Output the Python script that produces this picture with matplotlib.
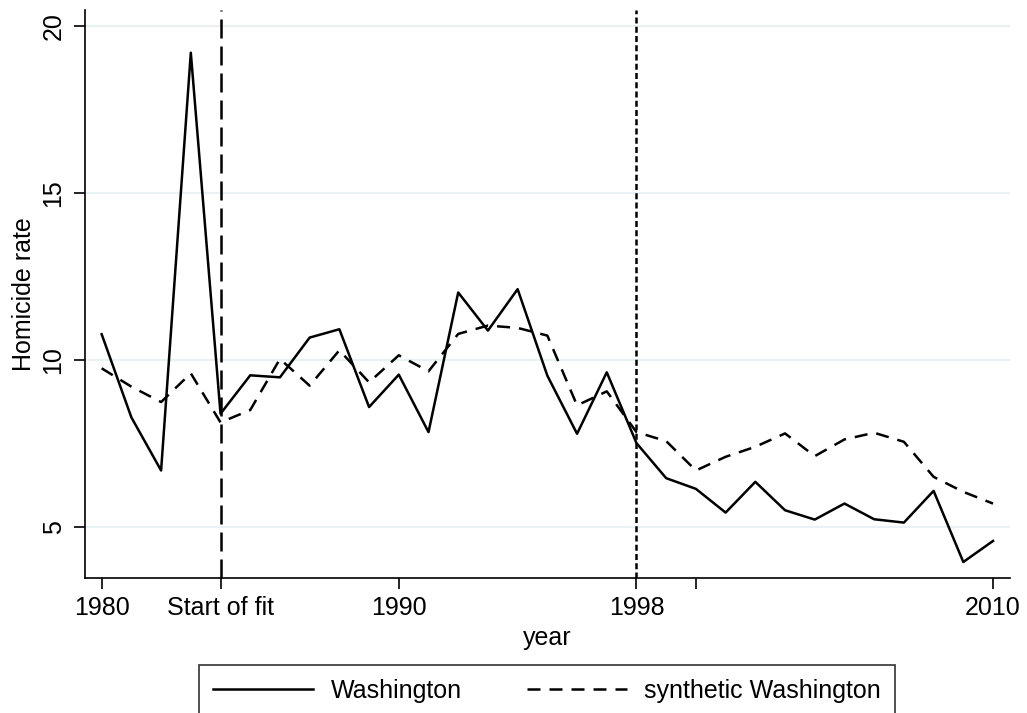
import matplotlib
matplotlib.use("Agg")
import matplotlib.pyplot as plt
from matplotlib.lines import Line2D

plt.rcParams['font.family'] = ['Liberation Sans', 'DejaVu Sans']

years = list(range(1980, 2011))
washington = [10.77, 8.28, 6.69, 19.2, 8.39, 9.54, 9.48, 10.67, 10.92, 8.59,
              9.56, 7.84, 12.02, 10.88, 12.12, 9.53, 7.79, 9.63, 7.51, 6.46,
              6.14, 5.43, 6.35, 5.5, 5.22, 5.7, 5.23, 5.13, 6.08, 3.95, 4.58]
synthetic = [9.75, 9.2, 8.74, 9.6, 8.13, 8.5, 10.03, 9.23, 10.29, 9.33,
             10.14, 9.66, 10.78, 11.03, 10.96, 10.73, 8.64, 9.06, 7.84, 7.57,
             6.69, 7.1, 7.4, 7.8, 7.12, 7.62, 7.82, 7.55, 6.5, 6.05, 5.7]

xticks = [1980, 1984, 1990, 1998, 2000, 2010]
xtick_labels = ['1980', 'Start of fit', '1990', '1998', '', '2010']
yticks = [5, 10, 15, 20]
fit_start = 1984
treat_year = 1998

fs = 18
lw = 1.8
dash = (5.2, 3.6)
fig = plt.figure(figsize=(10.27, 7.13), dpi=100)
ax = fig.add_axes([0.0828, 0.1893, 0.9006, 0.7967])

ax.grid(axis='y', color='#eaf1f3', lw=1.5, zorder=0)
ax.set_axisbelow(True)

ax.plot(years, washington, color='black', lw=lw, zorder=3)
ax.plot(years, synthetic, color='black', lw=lw, dashes=dash, zorder=3)

# start of fit / treatment year
ax.axvline(fit_start, color='black', lw=lw, dashes=(7.6, 3.2), zorder=4)
ax.axvline(treat_year, color='black', lw=lw, dashes=(2.4, 1.3), zorder=4)

ax.set_xlim(1979.44, 2010.57)
ax.set_ylim(3.47, 20.48)
ax.set_xticks(xticks)
ax.set_xticklabels(xtick_labels)
ax.set_yticks(yticks)
ax.set_yticklabels([str(v) for v in yticks], rotation=90, va='center')

for s in ['top', 'right']:
    ax.spines[s].set_visible(False)
for s in ['left', 'bottom']:
    ax.spines[s].set_linewidth(1.2)

ax.tick_params(axis='both', direction='out', length=8, width=1.2, labelsize=fs)
ax.tick_params(axis='x', pad=5)
ax.tick_params(axis='y', pad=6)

ax.set_xlabel('year', fontsize=fs, labelpad=4)
ax.set_ylabel('Homicide rate', fontsize=fs, labelpad=4)

handles = [Line2D([], [], color='black', lw=lw),
           Line2D([], [], color='black', lw=lw, dashes=dash)]
leg = fig.legend(handles, ['Washington', 'synthetic Washington'],
                 loc='upper center', bbox_to_anchor=(547 / 1027, 1 - 665 / 713),
                 ncol=2, fontsize=fs, frameon=True, fancybox=False,
                 handlelength=4, handletextpad=0.7, columnspacing=2.6,
                 borderpad=0.55, borderaxespad=0)
leg.get_frame().set_edgecolor('black')
leg.get_frame().set_linewidth(1.2)

fig.savefig('out.png', dpi=100)
